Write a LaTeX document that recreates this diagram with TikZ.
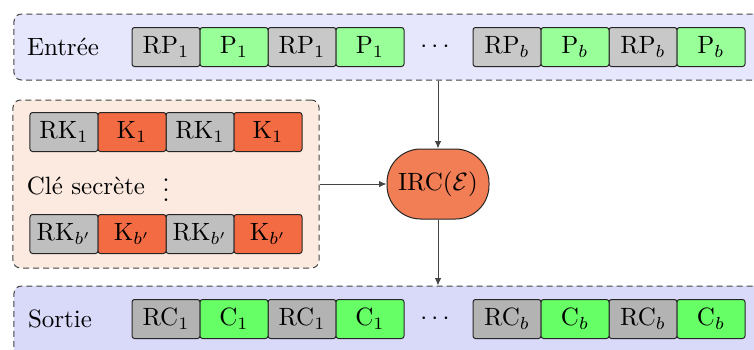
\documentclass[tikz,border=0pt]{standalone}
\usepackage{tikz}
\usetikzlibrary{arrows.meta,positioning}
\definecolor{inbg}{HTML}{E6E6FC}
\definecolor{outbg}{HTML}{D9D9FA}
\definecolor{keybg}{HTML}{FCEAE0}
\definecolor{grayin}{HTML}{C8C8C8}
\definecolor{grayout}{HTML}{B3B3B3}
\definecolor{graykey}{HTML}{BFBFBF}
\definecolor{greenin}{HTML}{99FF99}
\definecolor{greenout}{HTML}{66FF66}
\definecolor{keyred}{HTML}{F26B43}
\definecolor{ircfill}{HTML}{F27E55}
\definecolor{inkgray}{HTML}{444444}

\begin{document}
\begin{tikzpicture}[
    x=0.4pt, y=-0.4pt,
    >={Latex[length=3pt,width=2.6pt]},
    panel/.style={draw=inkgray, dash pattern=on 2.4pt off 1.6pt, rounded corners=3pt,
                  inner sep=0pt},
    cell/.style={draw=black!85, rounded corners=1pt, minimum width=27.2pt,
                 minimum height=15.6pt, inner sep=0pt},
    rpcell/.style={cell, fill=grayin},
    pcell/.style={cell, fill=greenin},
    rccell/.style={cell, fill=grayout},
    ccell/.style={cell, fill=greenout},
    rkcell/.style={cell, fill=graykey},
    kcell/.style={cell, fill=keyred},
    irc/.style={draw=black!85, fill=ircfill, rounded corners=13.5pt,
                minimum width=40.8pt, minimum height=28pt, inner sep=1pt},
    link/.style={draw=inkgray, ->},
]
\useasboundingbox (0,0) rectangle (754,349);

% =====================================================================
% input block
% =====================================================================
\node[panel, fill=inbg, minimum width=310.4pt, minimum height=26.4pt] (entree) at (402,47) {};
\node (entreelbl) at (63,47) {Entrée};
\foreach \x/\s [count=\n] in {166/1,302/1,507/b,643/b}
    \node[rpcell] (rp\n) at (\x,47) {$\mathrm{RP}_\s$};
\foreach \x/\s [count=\n] in {234/1,370/1,575/b,711/b}
    \node[pcell] (p\n) at (\x,47) {$\mathrm{P}_\s$};
\node (indots) at (435,47) {$\cdots$};

% =====================================================================
% secret key block
% =====================================================================
\node[panel, fill=keybg, minimum width=122.4pt, minimum height=67.2pt] (cle) at (166,184) {};
\foreach \y/\s [count=\r] in {132/1,234/{b'}} {
    \foreach \x [count=\n] in {64,200}
        \node[rkcell] (rk\r\n) at (\x,\y) {$\mathrm{RK}_{\s}$};
    \foreach \x [count=\n] in {132,268}
        \node[kcell] (k\r\n) at (\x,\y) {$\mathrm{K}_{\s}$};
}
\node[inner sep=1pt] (clelbl) at (86,186) {Clé secrète};
\node[inner sep=0pt] (keydots) at (166,183) {$\vdots$};

% =====================================================================
% cipher
% =====================================================================
\node[irc] (ircnode) at (438,184) {IRC$(\mathcal{E})$};

% =====================================================================
% output block
% =====================================================================
\node[panel, fill=outbg, minimum width=310.4pt, minimum height=29.6pt] (sortie) at (402,323) {};
\node (sortielbl) at (60,319) {Sortie};
\foreach \x/\s [count=\n] in {166/1,302/1,507/b,643/b}
    \node[rccell] (rc\n) at (\x,319) {$\mathrm{RC}_\s$};
\foreach \x/\s [count=\n] in {234/1,370/1,575/b,711/b}
    \node[ccell] (c\n) at (\x,319) {$\mathrm{C}_\s$};
\node (outdots) at (435,319) {$\cdots$};

% connectors
\draw[link] (ircnode |- entree.south) -- (ircnode.north);
\draw[link] (cle.east) -- (ircnode.west);
\draw[link] (ircnode.south) -- (ircnode |- sortie.north);

\end{tikzpicture}
\end{document}
